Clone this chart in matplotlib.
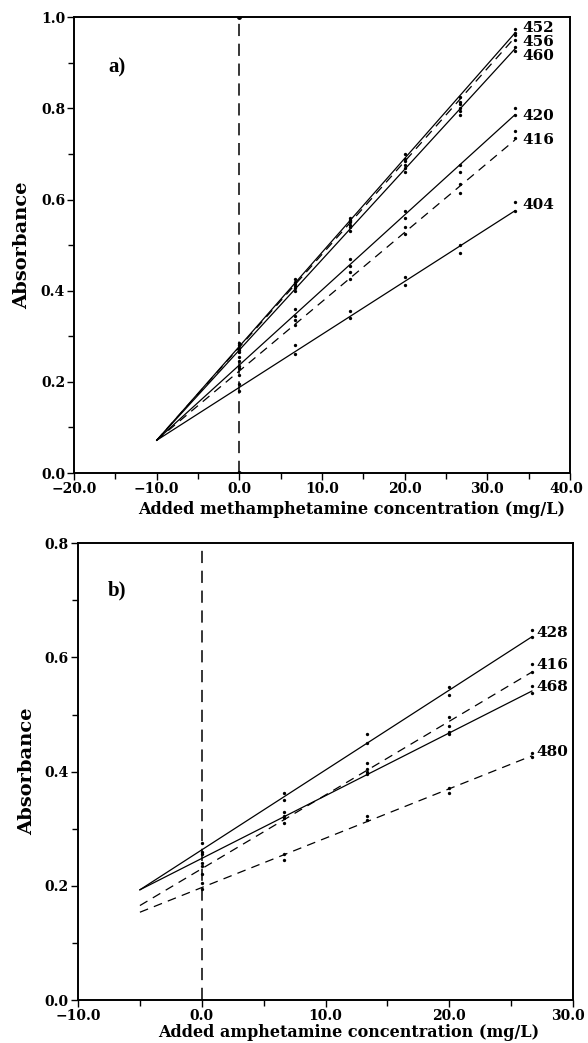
import numpy as np
import matplotlib.pyplot as plt
from matplotlib.ticker import MultipleLocator, FuncFormatter, FormatStrFormatter

# ---- panel a: methamphetamine standard additions ----
xa = [0.0, 6.67, 13.33, 20.0, 26.67, 33.33]
wl_a = ["452", "456", "460", "420", "416", "404"]
style_a = ["-", "--", "-", "-", "--", "-"]
# fitted lines: absorbance at x=0 and slope per mg/L
icpt_a = [0.278, 0.276, 0.270, 0.237, 0.224, 0.188]
slope_a = [0.02062, 0.02039, 0.01982, 0.01647, 0.01520, 0.01162]
# replicate readings
rep1_a = [
    [0.285, 0.425, 0.560, 0.700, 0.825, 0.975],
    [0.280, 0.420, 0.555, 0.685, 0.810, 0.960],
    [0.265, 0.405, 0.540, 0.670, 0.795, 0.935],
    [0.245, 0.360, 0.470, 0.575, 0.675, 0.800],
    [0.230, 0.335, 0.440, 0.540, 0.635, 0.750],
    [0.195, 0.280, 0.355, 0.430, 0.500, 0.595],
]
rep2_a = [
    [0.275, 0.415, 0.550, 0.690, 0.815, 0.965],
    [0.270, 0.410, 0.545, 0.675, 0.800, 0.950],
    [0.255, 0.400, 0.530, 0.660, 0.785, 0.925],
    [0.235, 0.345, 0.455, 0.560, 0.660, 0.785],
    [0.215, 0.325, 0.425, 0.525, 0.615, 0.735],
    [0.180, 0.262, 0.340, 0.412, 0.482, 0.575],
]
label_y_a = [0.976, 0.945, 0.914, 0.783, 0.730, 0.588]

# ---- panel b: amphetamine standard additions ----
xb = [0.0, 6.67, 13.33, 20.0, 26.67]
wl_b = ["428", "416", "468", "480"]
style_b = ["-", "--", "-", "--"]
icpt_b = [0.263, 0.230, 0.248, 0.197]
slope_b = [0.01399, 0.01291, 0.01099, 0.00865]
rep1_b = [
    [0.275, 0.362, 0.465, 0.548, 0.648],
    [0.235, 0.322, 0.415, 0.495, 0.588],
    [0.255, 0.330, 0.405, 0.480, 0.550],
    [0.205, 0.255, 0.322, 0.372, 0.432],
]
rep2_b = [
    [0.260, 0.350, 0.450, 0.535, 0.635],
    [0.220, 0.310, 0.400, 0.470, 0.575],
    [0.240, 0.318, 0.395, 0.465, 0.538],
    [0.195, 0.245, 0.315, 0.362, 0.425],
]
label_y_b = [0.643, 0.587, 0.548, 0.434]

plt.rcParams["font.family"] = "DejaVu Serif"
plt.rcParams["font.weight"] = "bold"

TICK_FS = 10


def fmt_x(xmax):
    # the right-most label is drawn separately so it stays on the page
    def f(v, pos):
        if abs(v - xmax) < 1e-6:
            return ""
        return f"{v:.1f}".replace("-", "\u2212")
    return FuncFormatter(f)


def style_axes(ax, xlim, ylim, last_shift):
    ax.set_xlim(*xlim)
    ax.set_ylim(*ylim)
    ax.xaxis.set_major_locator(MultipleLocator(10))
    ax.xaxis.set_minor_locator(MultipleLocator(5))
    ax.yaxis.set_major_locator(MultipleLocator(0.2))
    ax.yaxis.set_minor_locator(MultipleLocator(0.1))
    ax.xaxis.set_major_formatter(fmt_x(xlim[1]))
    ax.yaxis.set_major_formatter(FormatStrFormatter("%.1f"))
    ax.tick_params(which="both", direction="out", width=1.0, labelsize=TICK_FS)
    ax.tick_params(which="major", length=5, pad=1.5)
    ax.tick_params(which="minor", length=4)
    for s in ax.spines.values():
        s.set_linewidth(1.4)
    ax.annotate(f"{xlim[1]:.1f}", xy=(1, 0), xycoords="axes fraction",
                xytext=(last_shift, -6.5), textcoords="offset points",
                ha="center", va="top", fontsize=TICK_FS, fontweight="bold")


def draw_panel(ax, x, x_start, icpt, slope, rep1, rep2, styles, labels, label_y, label_x):
    x_end = x[-1]
    for i in range(len(icpt)):
        xs = np.array([x_start, x_end])
        ax.plot(xs, icpt[i] + slope[i] * xs, color="black", lw=0.9,
                linestyle=styles[i], dashes=(7, 5) if styles[i] == "--" else (None, None))
        ax.plot(x, rep1[i], "o", color="black", ms=2.4, mec="none")
        ax.plot(x, rep2[i], "o", color="black", ms=2.4, mec="none")
        ax.text(label_x, label_y[i], labels[i], fontsize=11, fontweight="bold",
                va="center", ha="left")


fig = plt.figure(figsize=(5.88, 10.43), dpi=100)

ax1 = fig.add_axes([0.126, 0.5465, 0.8435, 0.437])
style_axes(ax1, (-20, 40), (0, 1.0), -2.5)
ax1.plot([0, 0], [0, 1.0], color="black", lw=1.1, dashes=(8, 5), marker="o", ms=2.5)
draw_panel(ax1, xa, -10, icpt_a, slope_a, rep1_a, rep2_a, style_a, wl_a, label_y_a, 34.2)
ax1.text(-15.8, 0.89, "a)", family="Liberation Serif", fontsize=15, fontweight="bold",
         va="center", ha="left")
ax1.set_ylabel("Absorbance", fontsize=14, fontweight="bold", labelpad=7)
ax1.text(0.56, -0.079, "Added methamphetamine concentration (mg/L)", transform=ax1.transAxes,
         ha="center", va="center", fontsize=11.5, fontweight="bold")

ax2 = fig.add_axes([0.1327, 0.0412, 0.842, 0.438])
style_axes(ax2, (-10, 30), (0, 0.8), -4)
ax2.plot([0, 0], [0, 0.8], color="black", lw=1.1, dashes=(8, 5))
draw_panel(ax2, xb, -5, icpt_b, slope_b, rep1_b, rep2_b, style_b, wl_b, label_y_b, 27.0)
ax2.text(-7.6, 0.718, "b)", family="Liberation Serif", fontsize=15, fontweight="bold",
         va="center", ha="left")
ax2.set_ylabel("Absorbance", fontsize=14, fontweight="bold", labelpad=6)
ax2.text(0.547, -0.071, "Added amphetamine concentration (mg/L)", transform=ax2.transAxes,
         ha="center", va="center", fontsize=11.5, fontweight="bold")

fig.savefig("out.png", dpi=100)
